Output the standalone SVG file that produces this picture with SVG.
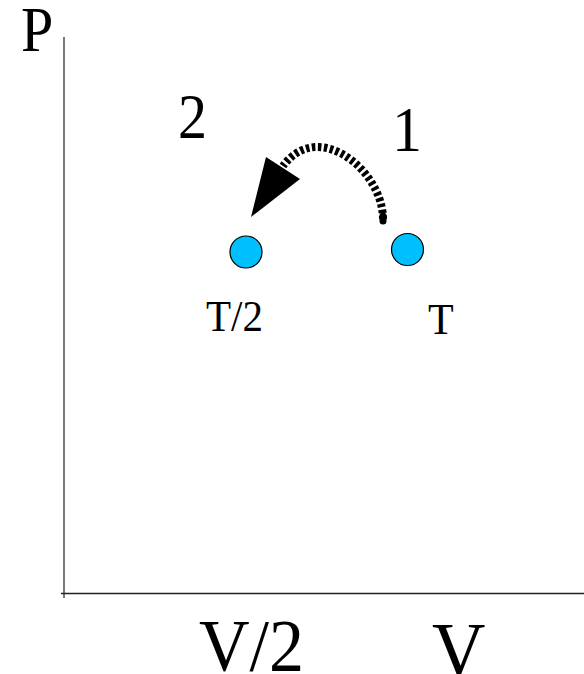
<svg xmlns="http://www.w3.org/2000/svg" width="584" height="674" viewBox="0 0 584 674">
<style>
  text { font-family: "Liberation Serif", "Times New Roman", serif; fill: #000; }
  .state { fill: #00BFFF; stroke: #000; stroke-width: 1.2; }
  .axis { stroke: #222; fill: none; }
</style>
<rect width="584" height="674" fill="#fff"/>
<g id="axes">
  <line class="axis" x1="64" y1="37" x2="64" y2="598" stroke-width="1.2"/>
  <line class="axis" x1="61" y1="593.5" x2="584" y2="593.5" stroke="#555" stroke-width="1.6"/>
  <text transform="translate(21,51) scale(1,1.08)" font-size="58">P</text>
  <text transform="translate(199,671) scale(1,1.06)" font-size="70">V/2</text>
  <text transform="translate(432,676) scale(1,1.06)" font-size="74">V</text>
</g>
<g id="state1">
  <circle class="state" cx="407.5" cy="249.5" r="16"/>
  <text transform="translate(392,151) scale(1,1.07)" font-size="60">1</text>
  <text transform="translate(428,334) scale(1,1.07)" font-size="42">T</text>
</g>
<g id="state2">
  <circle class="state" cx="246" cy="252" r="16"/>
  <text transform="translate(178,138) scale(1,1.08)" font-size="58">2</text>
  <text transform="translate(206,331) scale(1,1.07)" font-size="41">T/2</text>
</g>
<g id="connectors">
  <path d="M383,219 C383,185 350,147 317,147 C303,147 291,155 283,166" fill="none" stroke="#000" stroke-width="8" stroke-dasharray="3.5 2.5"/>
  <path d="M383,216 L383,221" stroke="#000" stroke-width="7" stroke-linecap="round"/>
  <polygon points="251,217 266,157 300,179" fill="#000"/>
</g>
</svg>
